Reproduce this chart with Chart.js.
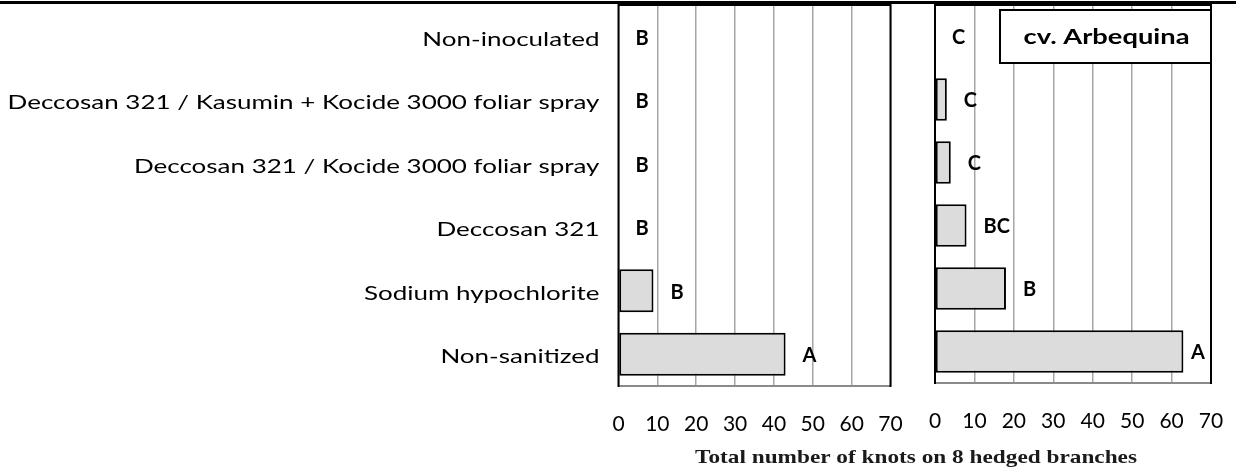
<!DOCTYPE html>
<html><head><meta charset="utf-8">
<script src="https://cdn.jsdelivr.net/npm/chart.js@4.4.0/dist/chart.umd.min.js"></script>
<style>
html,body{margin:0;padding:0;background:#fff;}
#wrap{position:relative;width:1236px;height:471px;overflow:hidden;}
canvas{position:absolute;left:0;top:0;}
</style></head><body>
<div id="wrap"><canvas id="c1" width="1236" height="471"></canvas><canvas id="c2" width="1236" height="471"></canvas></div>
<script>
const categories = [
  'Non-inoculated',
  'Deccosan 321 / Kasumin + Kocide 3000 foliar spray',
  'Deccosan 321 / Kocide 3000 foliar spray',
  'Deccosan 321',
  'Sodium hypochlorite',
  'Non-sanitized'
];
const knotsLeft = [0, 0, 0, 0, 9, 43];
const knotsRight = [0, 3, 4, 8, 18, 63];
const lettersLeft = ['B', 'B', 'B', 'B', 'B', 'A'];
const lettersRight = ['C', 'C', 'C', 'BC', 'B', 'A'];
const xMin = 0, xMax = 70, xStep = 10;
const panelLabel = 'cv. Arbequina';
const axisTitle = 'Total number of knots on 8 hedged branches';

const SANS = 'Lato';
const BAR_FILL = '#dcdcdd';
const GRID = '#a6a6a6';
const STRETCH = 1.3;

function framePlugin(letters, opts) {
  return {
    id: 'frame',
    afterDraw(chart) {
      const ctx = chart.ctx, a = chart.chartArea;
      ctx.save();
      // bottom (gray)
      ctx.strokeStyle = '#8a8a8a'; ctx.lineWidth = 2;
      ctx.beginPath(); ctx.moveTo(a.left, a.bottom); ctx.lineTo(a.right, a.bottom); ctx.stroke();
      // left, top, right (black)
      ctx.strokeStyle = '#000'; ctx.lineWidth = 2;
      ctx.beginPath();
      ctx.moveTo(a.left, a.bottom + 1); ctx.lineTo(a.left, a.top);
      ctx.lineTo(a.right, a.top); ctx.lineTo(a.right, a.bottom + 1);
      ctx.stroke();
      // significance letters
      const meta = chart.getDatasetMeta(0);
      ctx.font = 'bold 20px ' + SANS;
      ctx.fillStyle = '#000';
      ctx.textAlign = 'left'; ctx.textBaseline = 'middle';
      meta.data.forEach((bar, i) => {
        const t = letters[i];
        const w = ctx.measureText(t).width;
        let x = Math.max(bar.x, a.left) + 17;
        if (x + w > a.right - 6) x = a.right - 6 - w;
        ctx.fillText(t, x, bar.y + 1.5);
      });
      if (opts.categoryLabels) {
        const ys = chart.scales.y;
        ctx.font = '20px ' + SANS;
        ctx.fillStyle = '#000';
        ctx.textAlign = 'right'; ctx.textBaseline = 'middle';
        categories.forEach((c, i) => {
          ctx.save();
          ctx.translate(a.left - 19, ys.getPixelForValue(i) + 2.5);
          ctx.scale(STRETCH, 1);
          ctx.fillText(c, 0, 0);
          ctx.restore();
        });
      }
      if (opts.legend) {
        const bw = 211, bh = 53;
        const bx = a.right - bw, by = a.top + 5;
        ctx.fillStyle = '#fff';
        ctx.fillRect(bx, by, bw, bh);
        ctx.strokeStyle = '#000'; ctx.lineWidth = 2;
        ctx.strokeRect(bx, by, bw, bh);
        ctx.fillStyle = '#000';
        ctx.font = 'bold 21px ' + SANS;
        ctx.textAlign = 'center'; ctx.textBaseline = 'middle';
        ctx.save();
        ctx.translate(bx + bw / 2 + 1, by + bh / 2 + 1);
        ctx.scale(STRETCH, 1);
        ctx.fillText(opts.legend, 0, 0);
        ctx.restore();
      }
      if (opts.page) {
        ctx.fillStyle = '#000';
        ctx.fillRect(0, 1, chart.width, 3);
        ctx.font = 'bold 19px "Liberation Serif"';
        const w = ctx.measureText(axisTitle).width;
        ctx.translate(916, 463);
        ctx.scale(442 / w, 1);
        ctx.textAlign = 'center'; ctx.textBaseline = 'alphabetic';
        ctx.fillStyle = '#1a1a1a';
        ctx.fillText(axisTitle, 0, 0);
      }
      ctx.restore();
    }
  };
}

function makeChart(id, values, letters, cfg) {
  return new Chart(document.getElementById(id), {
    type: 'bar',
    data: {
      labels: categories,
      datasets: [{
        data: values,
        backgroundColor: BAR_FILL,
        borderColor: '#000',
        borderWidth: 2,
        borderSkipped: false,
        categoryPercentage: 1,
        barPercentage: 0.675
      }]
    },
    options: {
      indexAxis: 'y',
      responsive: false,
      animation: false,
      devicePixelRatio: 1,
      layout: { padding: cfg.padding },
      plugins: { legend: { display: false }, tooltip: { enabled: false } },
      scales: {
        x: {
          min: xMin, max: xMax,
          ticks: { stepSize: xStep, color: '#000', font: { family: SANS, size: 21 }, padding: 26, maxRotation: 0 },
          grid: { color: GRID, lineWidth: 1.5, drawTicks: false },
          border: { display: false },
          afterFit: (s) => { s.height = cfg.xHeight; s.paddingLeft = 0; s.paddingRight = 0; }
        },
        y: {
          display: cfg.showY,
          ticks: { display: false },
          grid: { display: false, drawTicks: false },
          border: { display: false },
          afterFit: (s) => {
            if (cfg.yWidth !== undefined) s.width = cfg.yWidth;
            s.paddingTop = 0; s.paddingBottom = 0;
          }
        }
      }
    },
    plugins: [framePlugin(letters, cfg)]
  });
}

makeChart('c1', knotsLeft, lettersLeft, {
  padding: { left: 0, right: 345.5, top: 5, bottom: 0 },
  xHeight: 85, showY: true, yWidth: 618.5, page: true, categoryLabels: true
});
makeChart('c2', knotsRight, lettersRight, {
  padding: { left: 935, right: 25, top: 5, bottom: 0 },
  xHeight: 88, showY: false, legend: panelLabel
});
</script>
</body></html>
